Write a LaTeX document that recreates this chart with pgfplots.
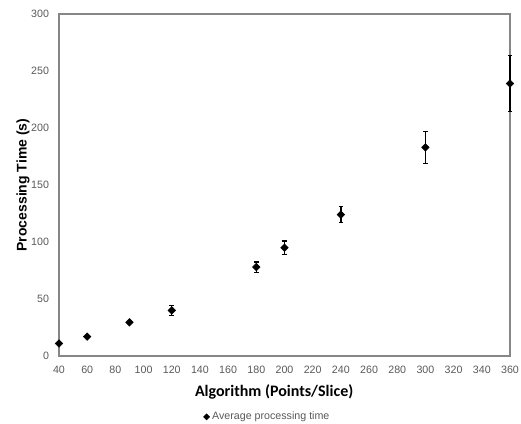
\documentclass[border=0pt]{standalone}
\usepackage{pgfplots}
\pgfplotsset{compat=1.18}
\usepackage{fontspec}
\setmainfont{Liberation Sans}
\newfontfamily\calibri{Carlito}
\definecolor{axgray}{HTML}{868686}
\definecolor{tickgray}{HTML}{595959}
\begin{document}
\begin{tikzpicture}
\begin{axis}[
  scale only axis,
  width=338.25pt, height=256.5pt,
  xmin=40, xmax=360, ymin=0, ymax=300,
  xtick={40,60,...,360},
  ytick={0,50,...,300},
  major tick length=0pt,
  axis line style={axgray, line width=1pt},
  tick label style={font=\fontsize{8}{9}\selectfont, text=tickgray},
  /pgf/number format/assume math mode=true,
  xticklabel style={yshift=-4pt},
  yticklabel style={xshift=-4pt},
  clip=false,
  xlabel={\calibri\bfseries Algorithm (Points/Slice)},
  ylabel={\bfseries Processing Time (s)},
  xlabel style={font=\fontsize{12}{14}\selectfont, at={(rel axis cs:0.477,0)}, anchor=center, yshift=-27pt},
  ylabel style={font=\fontsize{10.5}{12}\selectfont, at={(rel axis cs:0,0.5)}, anchor=center, yshift=27pt},
  legend style={at={(rel axis cs:0.463,-0.178)}, anchor=center, draw=none, fill=none,
    font=\fontsize{8}{9}\selectfont, text=tickgray, inner sep=0pt},
  legend cell align=left,
  legend image code/.code={\draw[mark repeat=2,mark phase=2, mark size=1.6pt] plot coordinates {(0cm,0cm) (0.06cm,0cm) (0.12cm,0cm)};},
]
\addplot[only marks, mark=square*, mark options={rotate=45}, mark size=2pt, black,
  error bars/.cd, y dir=both, y explicit,
  error bar style={line width=1.1pt, black},
  error mark options={rotate=90, mark size=1.7pt, line width=1pt, black}]
  table[x=x, y=y, y error=e] {
x y e
40 11 0.5
60 17 0.5
90 29.5 0.8
120 40 4.5
180 78 4.5
200 95 6
240 124 7
300 183 14
360 239 24.5
};
\addlegendentry{Average processing time}
\coordinate (bl) at (rel axis cs:0,0);
\coordinate (tr) at (rel axis cs:1,1);
\end{axis}
\pgfresetboundingbox
\path ([xshift=-44.25pt,yshift=-51pt]bl) rectangle ([xshift=8.25pt,yshift=10.5pt]tr);
\end{tikzpicture}
\end{document}
